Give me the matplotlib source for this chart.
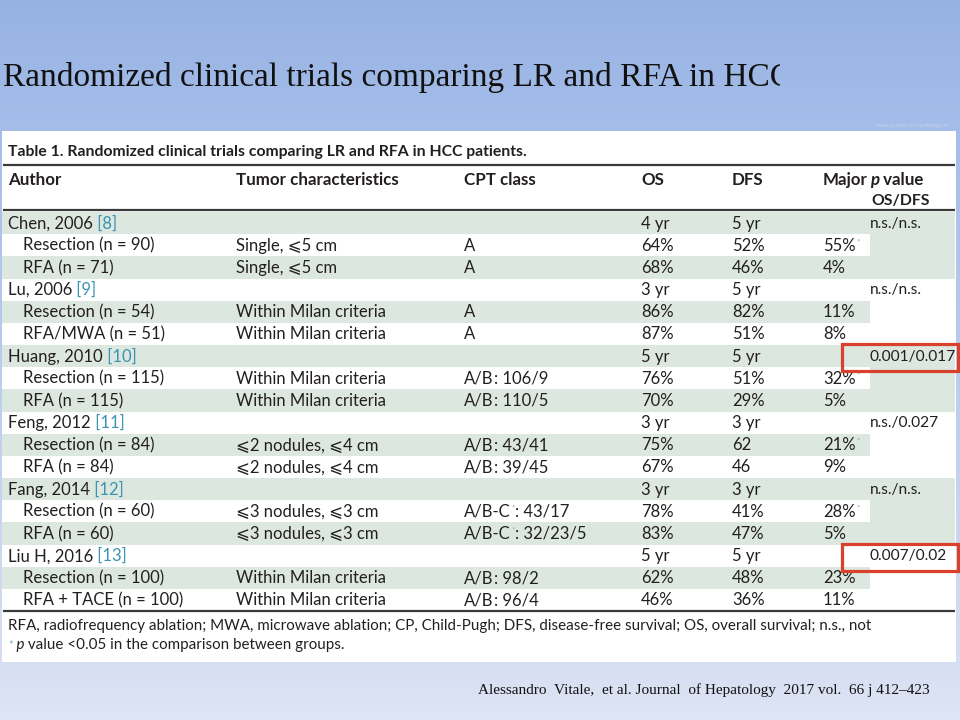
import numpy as np
import matplotlib
matplotlib.use('Agg')
import matplotlib.pyplot as plt
from matplotlib.patches import Rectangle
from matplotlib.transforms import Bbox, TransformedBbox

# ---------------- data ----------------
slide_title = "Randomized clinical trials comparing LR and RFA in HCC patients"
table_title = "Table 1. Randomized clinical trials comparing LR and RFA in HCC patients."
headers = ["Author", "Tumor characteristics", "CPT class", "OS", "DFS", "Major"]
groups = ["Chen, 2006", "Lu, 2006", "Huang, 2010", "Feng, 2012", "Fang, 2014", "Liu H, 2016"]
refs = ["[8]", "[9]", "[10]", "[11]", "[12]", "[13]"]
os_period = ["4 yr", "3 yr", "5 yr", "3 yr", "3 yr", "5 yr"]
dfs_period = ["5 yr", "5 yr", "5 yr", "3 yr", "3 yr", "5 yr"]
p_values = ["n.s./n.s.", "n.s./n.s.", "0.001/0.017", "n.s./0.027", "n.s./n.s.", "0.007/0.02"]
highlighted = ["Huang, 2010", "Liu H, 2016"]

arms = ["Resection (n = 90)", "RFA (n = 71)",
        "Resection (n = 54)", "RFA/MWA (n = 51)",
        "Resection (n = 115)", "RFA (n = 115)",
        "Resection (n = 84)", "RFA (n = 84)",
        "Resection (n = 60)", "RFA (n = 60)",
        "Resection (n = 100)", "RFA + TACE (n = 100)"]
tumor = ["Single, ⩽5 cm", "Single, ⩽5 cm",
         "Within Milan criteria", "Within Milan criteria",
         "Within Milan criteria", "Within Milan criteria",
         "⩽2 nodules, ⩽4 cm", "⩽2 nodules, ⩽4 cm",
         "⩽3 nodules, ⩽3 cm", "⩽3 nodules, ⩽3 cm",
         "Within Milan criteria", "Within Milan criteria"]
cpt_class = ["A", "A", "A", "A", "A/B", "A/B", "A/B", "A/B", "A/B-C", "A/B-C", "A/B", "A/B"]
cpt_counts = ["", "", "", "", "106/9", "110/5", "43/41", "39/45", "43/17", "32/23/5", "98/2", "96/4"]
cpt_sig = [False, False, False, False, False, False, False, False, True, True, False, False]
os_pct = [64, 68, 86, 87, 76, 70, 75, 67, 78, 83, 62, 46]
dfs_text = ["52%", "46%", "82%", "51%", "51%", "29%", "62", "46", "41%", "47%", "48%", "36%"]
major = ["55%", "4%", "11%", "8%", "32%", "5%", "21%", "9%", "28%", "5%", "23%", "11%"]
major_sig = [True, False, False, False, True, False, True, False, True, False, True, False]
footnote1 = ("RFA, radiofrequency ablation; MWA, microwave ablation; CP, Child-Pugh; "
             "DFS, disease-free survival; OS, overall survival; n.s., not")
footnote2 = "value <0.05 in the comparison between groups."
citation = "Alessandro  Vitale,  et al. Journal  of Hepatology  2017 vol.  66 j 412–423"

# ---------------- style ----------------
FONT = ["Lato", "DejaVu Sans"]
SERIF = ["Liberation Serif", "DejaVu Serif"]
TXT = "#231f20"
REF = "#3d93b3"
STAR = "#7fb3c4"
SHADE = "#dce7df"
RULE = "#3a3a3a"
RED = "#d9412c"
FS = 12

fig = plt.figure(figsize=(9.6, 7.2), dpi=100)
ax = fig.add_axes([0, 0, 1, 1])

# background gradient
ys = np.arange(720)
sy = [0, 130, 660, 720]
sc = np.array([[150, 178, 227], [165, 189, 233], [214, 222, 242], [223, 229, 245]]) / 255.0
grad = np.stack([np.interp(ys, sy, sc[:, k]) for k in range(3)], axis=1)
ax.imshow(grad[:, None, :], extent=[0, 960, 720, 0], aspect='auto', zorder=0)
ax.set_xlim(0, 960)
ax.set_ylim(720, 0)
ax.axis('off')

# slide title (clipped at the right like the original)
t = ax.text(3, 86, slide_title, family=SERIF, fontsize=24, color="#111111",
            va='baseline', ha='left', zorder=3)
t.set_clip_on(True)
t.set_clip_box(TransformedBbox(Bbox([[0, 0], [780, 130]]), ax.transData))

ax.text(950, 125, "www.journal-of-hepatology.eu", family=FONT, fontsize=4,
        color="#c5d2ee", ha='right', va='center', zorder=3)

# table panel
ax.add_patch(Rectangle((2, 131), 954, 531, facecolor='white', edgecolor='none', zorder=1))

# geometry
ROW_TOP = 212.0
ROW_H = 22.17
X_AUTH, X_ARM, X_TUM, X_CPT, X_OS, X_DFS, X_MAJ, X_P = 8, 23, 236, 464, 641, 732, 823, 870
X_L, X_R = 2, 955
n_rows = 3 * len(groups)


def yc(r):
    return ROW_TOP + (r + 0.5) * ROW_H + 0.5


def txt(x, y, s, **kw):
    kw.setdefault('fontsize', FS)
    kw.setdefault('color', TXT)
    kw.setdefault('va', 'center')
    kw.setdefault('ha', 'left')
    return ax.text(x, y, s, family=FONT, zorder=4, **kw)


def after(tobj, s, dx=0, **kw):
    kw.setdefault('fontsize', FS)
    kw.setdefault('color', TXT)
    return ax.annotate(s, xy=(1, 0.5), xycoords=tobj, xytext=(dx, 0),
                       textcoords='offset points', va='center', ha='left',
                       family=FONT, zorder=4, **kw)


def star(tobj):
    return ax.annotate("*", xy=(1, 1), xycoords=tobj, xytext=(0.8, -0.5),
                       textcoords='offset points', va='top', ha='left',
                       family=FONT, fontsize=6, color=STAR, zorder=4)


# shading
for r in range(n_rows):
    top = ROW_TOP + r * ROW_H
    if r % 2 == 0:
        ax.add_patch(Rectangle((X_L, top), X_P - X_L, ROW_H, facecolor=SHADE,
                               edgecolor='none', zorder=2))
for g in range(len(groups)):
    if g % 2 == 0:
        top = ROW_TOP + 3 * g * ROW_H
        ax.add_patch(Rectangle((X_P, top), X_R - X_P, 3 * ROW_H, facecolor=SHADE,
                               edgecolor='none', zorder=2))

# rules
for yy in (165, 210, ROW_TOP + n_rows * ROW_H):
    ax.plot([X_L + 1, X_R], [yy, yy], color=RULE, lw=1.6, zorder=3,
            solid_capstyle='butt')

# table title + header
txt(X_AUTH, 152, table_title, fontsize=11.3, fontweight='bold')
hx = [X_AUTH, X_TUM, X_CPT, X_OS, X_DFS, X_MAJ]
for x, h in zip(hx, headers):
    txt(x, 180, h, fontweight='bold', fontsize=12.2)
pt = txt(X_P, 180, "p", fontweight='bold', style='italic', fontsize=12.2)
after(pt, " value", fontweight='bold', fontsize=12.2)
txt(X_P + 1, 201, "OS/DFS", fontweight='bold', fontsize=11.3)

# body
for g, name in enumerate(groups):
    r0 = 3 * g
    a = txt(X_AUTH, yc(r0), name)
    after(a, " " + refs[g], color=REF)
    txt(X_OS, yc(r0), os_period[g])
    txt(X_DFS, yc(r0), dfs_period[g])
    txt(X_P, yc(r0), p_values[g], fontsize=11.2)
    for k in range(2):
        i = 2 * g + k
        r = r0 + 1 + k
        y = yc(r)
        txt(X_ARM, y, arms[i])
        txt(X_TUM, y, tumor[i])
        c = txt(X_CPT, y, cpt_class[i])
        if cpt_sig[i]:
            star(c)
            after(c, ": " + cpt_counts[i], dx=3.5)
        elif cpt_counts[i]:
            after(c, ": " + cpt_counts[i])
        txt(X_OS, y, f"{os_pct[i]}%")
        txt(X_DFS, y, dfs_text[i])
        m = txt(X_MAJ, y, major[i])
        if major_sig[i]:
            star(m)
    if name in highlighted:
        top = ROW_TOP + r0 * ROW_H
        ax.add_patch(Rectangle((842, top - 1), 116, ROW_H + 5, facecolor='none',
                               edgecolor=RED, lw=2.3, zorder=5))

# footnotes
txt(X_AUTH, 626, footnote1, fontsize=10.9)
s = txt(X_AUTH, 645, "*", fontsize=8, color=STAR)
pp = after(s, " p", fontsize=10.9, style='italic')
after(pp, " " + footnote2, fontsize=10.9)

# citation
ax.text(478, 690, citation, family=SERIF, fontsize=11, color="#111111",
        va='center', ha='left', zorder=3)

fig.savefig("out.png", dpi=100)
